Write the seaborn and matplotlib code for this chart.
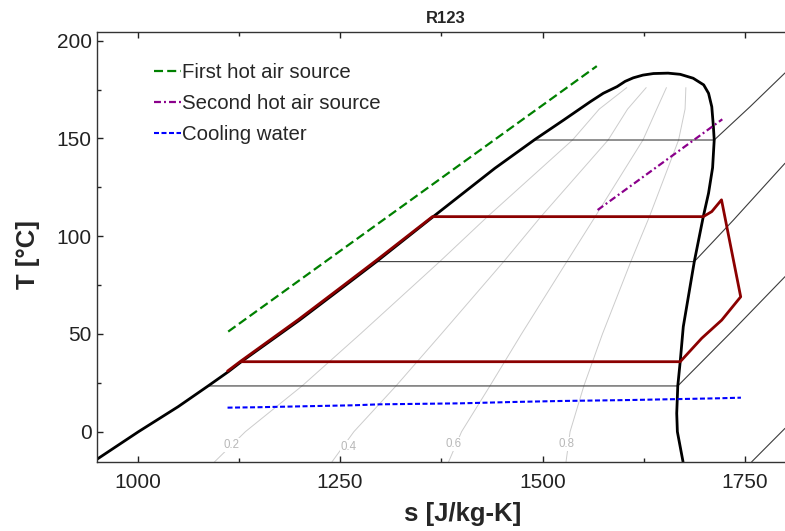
import matplotlib
matplotlib.use("Agg")
import matplotlib.pyplot as plt
import seaborn as sns
import pandas as pd

# ---- data: T-s diagram of R123 (s in J/kg-K, T in °C) ----
# saturation dome, liquid side -> critical point -> vapour side
dome_s = [945, 1001, 1050, 1087, 1112, 1128, 1200, 1250, 1295, 1365, 1441, 1491,
          1526, 1559, 1575, 1592, 1602, 1612, 1624, 1637, 1655, 1670, 1686, 1699,
          1705, 1709, 1711, 1712, 1710, 1705, 1698.5, 1687.4, 1673.8, 1670, 1667,
          1665.7, 1666.5, 1673.5]
dome_T = [-15.4, 0, 12.8, 23.4, 30.7, 35.8, 57.1, 72.8, 87, 110, 134.7, 149.6,
          159.4, 168.8, 173.1, 176.5, 179.2, 181.0, 182.4, 183.2, 183.4, 182.8, 180.8,
          177.4, 173.1, 166.2, 156, 149.2, 135, 122, 110, 87, 53.7, 35.8, 23.4,
          9.4, 0, -15.4]

# isobars: two-phase plateau and superheated branch
iso1_s = [1087, 1667, 1735.6, 1799.4]
iso1_T = [23.4, 23.4, 52.0, 79.3]
iso2_s = [1295, 1687.4, 1735.6, 1799.4]
iso2_T = [87.0, 87.0, 108.2, 137.3]
iso3_s = [1491, 1712, 1756.2, 1799.4]
iso3_T = [149.2, 149.2, 166.2, 183.5]
iso4_s = [1758.3, 1799.4]
iso4_T = [-15.4, 1.7]

# constant-quality lines
q_T = [-15.4, 0, 23.4, 50, 87, 110, 149.2, 165, 176]
q02_s = [1095, 1133, 1203, 1275, 1373, 1432, 1537, 1570, 1604]
q04_s = [1240, 1267, 1319, 1375, 1452, 1498, 1581, 1605, 1628]
q06_s = [1384, 1400, 1435, 1474, 1530, 1565, 1624, 1641, 1653]
q08_s = [1529, 1534, 1551, 1574, 1609, 1632, 1668, 1676, 1677]
q_labels = ["0.2", "0.4", "0.6", "0.8"]
q_label_s = [1116, 1261, 1390, 1530]
q_label_T = [-6.8, -7.7, -6.3, -6.3]

# ORC cycle
cyc_s = [1111, 1127, 1199, 1249, 1294, 1364, 1698.5, 1709, 1721, 1744.7, 1721.3,
         1696.6, 1670, 1128]
cyc_T = [31.0, 36.0, 57.5, 73.2, 87.4, 110, 110, 112.6, 118.6, 69.0, 57.1,
         47.8, 35.8, 35.8]

# heat source / sink streams
hot1_s = [1111.8, 1567]
hot1_T = [51.2, 187.0]
hot2_s = [1568, 1722]
hot2_T = [113.4, 159.8]
cw_s = [1111, 1147, 1217, 1266, 1299, 1398, 1464, 1521.5, 1608, 1719, 1745]
cw_T = [12.3, 12.5, 13.1, 13.5, 14.0, 14.5, 15.2, 15.7, 16.2, 17.1, 17.4]

# ---- style ----
sns.set_style("ticks")
plt.rcParams["font.family"] = ["Liberation Sans", "DejaVu Sans"]
plt.rcParams["lines.scale_dashes"] = False

fig = plt.figure(figsize=(7.85, 5.31), dpi=100)
ax = fig.add_axes([0.1238, 0.1305, 0.8768, 0.8098])


def line(s, T, **kw):
    df = pd.DataFrame({"s": s, "T": T})
    sns.lineplot(data=df, x="s", y="T", sort=False, estimator=None, ax=ax, **kw)
    return ax.lines[-1]


# quality lines
for qs in (q02_s, q04_s, q06_s, q08_s):
    line(qs, q_T, color="#cccccc", lw=0.7)
for lab, xs, yt in zip(q_labels, q_label_s, q_label_T):
    ax.text(xs, yt, lab, color="#b8b8b8", fontsize=8.3, ha="center", va="center",
            bbox=dict(facecolor="white", edgecolor="none", pad=0.5), zorder=2.5)

# isobars
for s_, T_ in ((iso1_s, iso1_T), (iso2_s, iso2_T), (iso3_s, iso3_T), (iso4_s, iso4_T)):
    line(s_, T_, color="#3c3c3c", lw=0.8)

# saturation dome
line(dome_s, dome_T, color="black", lw=2.0)

# cycle
line(cyc_s, cyc_T, color="#8b0000", lw=2.0)

# streams
h1 = line(hot1_s, hot1_T, color="#008000", lw=1.6, linestyle=(0, (6.5, 3.0)),
          label="First hot air source")
h2 = line(hot2_s, hot2_T, color="#8b008b", lw=1.6,
          linestyle=(0, (5.0, 2.2, 1.4, 2.2)), label="Second hot air source")
h3 = line(cw_s, cw_T, color="#0000ff", lw=1.5, linestyle=(0, (3.6, 1.8)),
          label="Cooling water")

ax.legend(handles=[h1, h2, h3], loc="upper left", bbox_to_anchor=(0.082, 0.927),
          frameon=False, fontsize=14.7, handlelength=1.35, handletextpad=0.05,
          labelspacing=0.58, borderpad=0, borderaxespad=0)

# axes
ax.set_xlim(950, 1800)
ax.set_ylim(-15.35, 204.6)
ax.set_xticks([1000, 1250, 1500, 1750])
ax.set_xticks([1125, 1375, 1625], minor=True)
ax.set_yticks([0, 50, 100, 150, 200])
ax.set_yticks([25, 75, 125, 175], minor=True)
ax.tick_params(axis="both", which="both", direction="in", top=True, right=False,
               labelsize=15, colors="#222222")
ax.tick_params(axis="both", which="major", length=4, width=1)
ax.tick_params(axis="both", which="minor", length=3, width=1)
ax.tick_params(axis="x", pad=8)
ax.tick_params(axis="y", pad=4)
for sp in ("left", "bottom", "top"):
    ax.spines[sp].set_linewidth(1.0)
    ax.spines[sp].set_color("#333333")
ax.spines["right"].set_visible(False)

ax.set_xlabel("s [J/kg-K]", fontsize=18.5, fontweight="bold")
ax.set_ylabel("T [°C]", fontsize=18.5, fontweight="bold")
ax.xaxis.set_label_coords(0.531, -0.094)
ax.yaxis.set_label_coords(-0.083, 0.483)
ax.set_title("R123", fontsize=12, fontweight="bold", x=0.507, y=1.0195, pad=0)

fig.savefig("out.png", dpi=100)
